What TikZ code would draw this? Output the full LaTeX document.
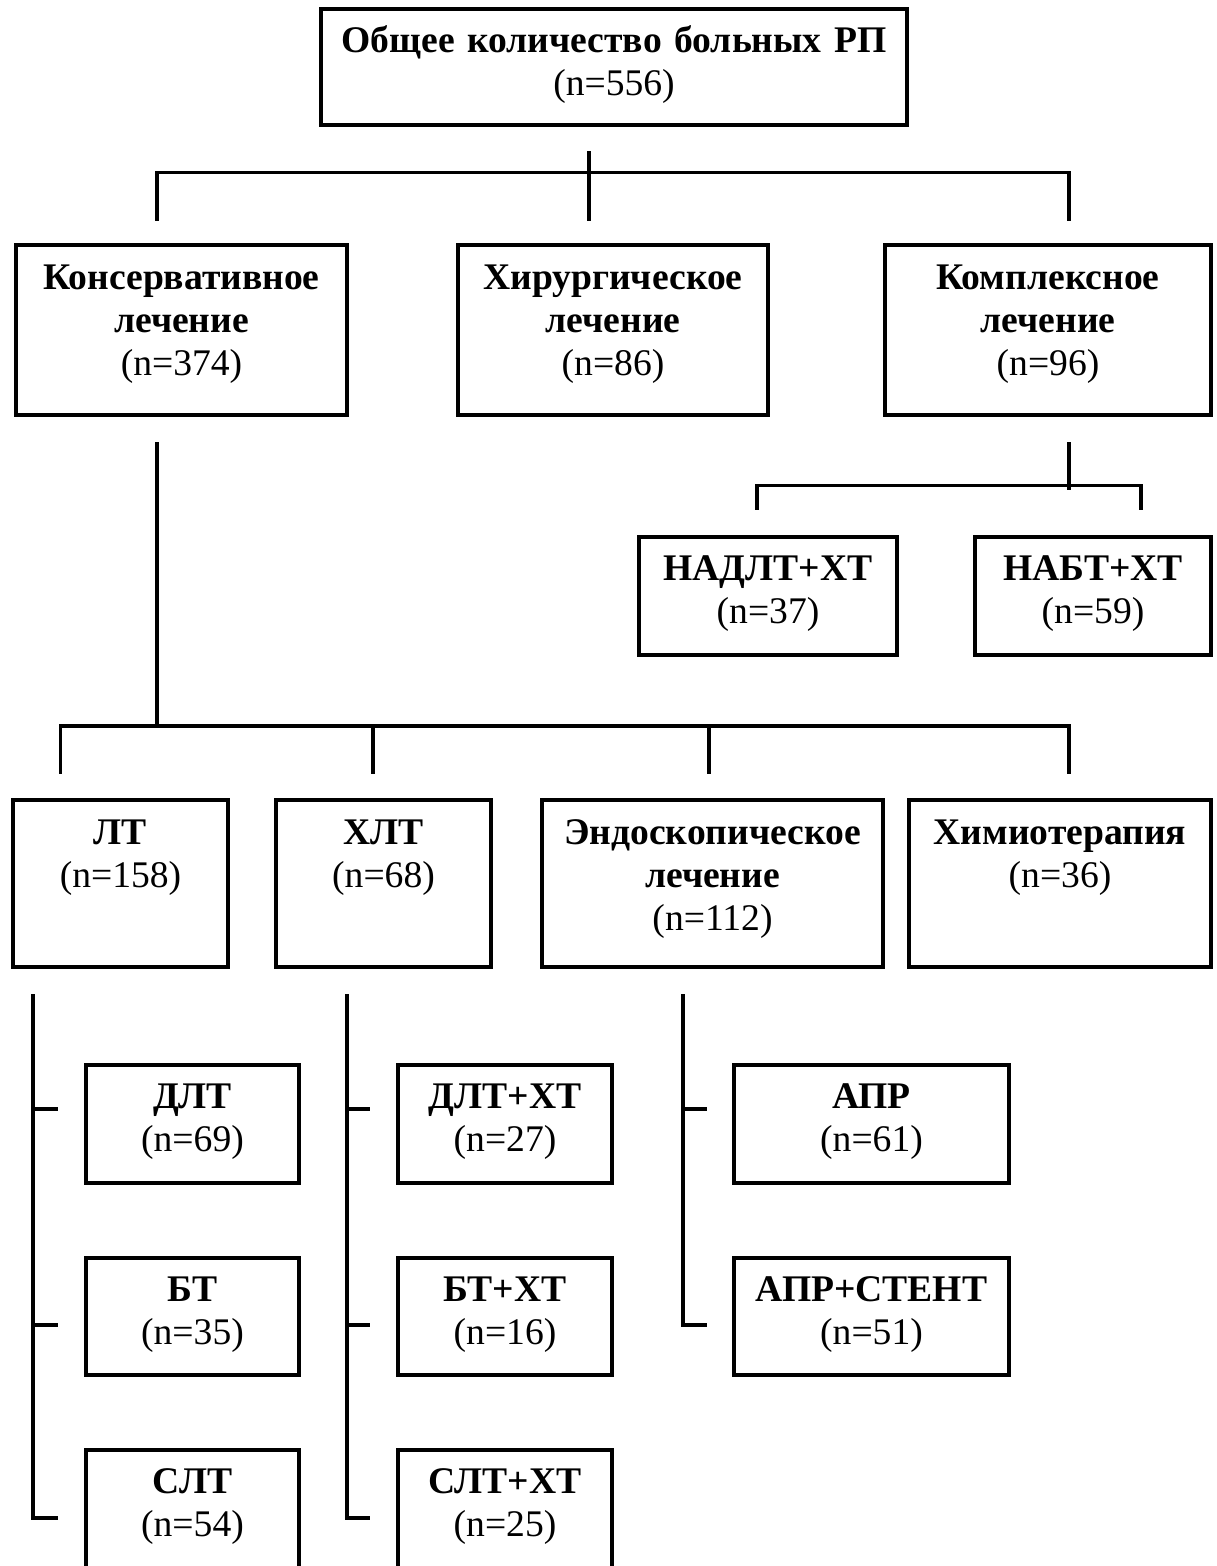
\documentclass[tikz,border=0pt]{standalone}
\usepackage{fontspec}
\setmainfont{Liberation Serif}[WordSpace=0.75]
\usetikzlibrary{calc,fit,positioning}

\begin{document}
\begin{tikzpicture}[x=0.5pt,y=-0.5pt]
\tikzstyle{box}=[draw,rectangle,line width=2.1pt,inner sep=0pt]
\tikzstyle{txt}=[anchor=base,text width=250pt,align=center,inner sep=0pt,font=\fontsize{18.8}{21.5}\selectfont]
\tikzstyle{link}=[line width=1.6pt]

\useasboundingbox (0,0) rectangle (1216,1566);

% boxes
\node (root) [box, fit={(321,9) (907,125)}] {};
\node (kons) [box, fit={(16,245) (347,415)}] {};
\node (hir) [box, fit={(458,245) (768,415)}] {};
\node (kom) [box, fit={(885,245) (1211,415)}] {};
\node (nadlt) [box, fit={(639,537) (897,655)}] {};
\node (nabt) [box, fit={(975,537) (1211,655)}] {};

\node (lt) [box, fit={(13,800) (228,967)}] {};
\node (hlt) [box, fit={(276,800) (491,967)}] {};
\node (endo) [box, fit={(542,800) (883,967)}] {};
\node (him) [box, fit={(909,800) (1211,967)}] {};

\node (dlt) [box, fit={(86,1065) (299,1183)}] {};
\node (bt) [box, fit={(86,1258) (299,1375)}] {};
\node (slt) [box, fit={(86,1450) (299,1572)}] {};
\node (dlthx) [box, fit={(398,1065) (612,1183)}] {};
\node (bthx) [box, fit={(398,1258) (612,1375)}] {};
\node (slthx) [box, fit={(398,1450) (612,1572)}] {};
\node (apr) [box, fit={(734,1065) (1009,1183)}] {};
\node (aprst) [box, fit={(734,1258) (1009,1375)}] {};

% texts
\node (troot) [txt, text width=400pt] at ($(root.north)+(0,46)$) {\textbf{Общее количество больных РП}\\(n=556)};
\node (tkons) [txt] at ($(kons.north)+(0,47)$) {\textbf{Консервативное}\\\textbf{лечение}\\(n=374)};
\node (thir) [txt] at ($(hir.north)+(0,47)$) {\textbf{Хирургическое}\\\textbf{лечение}\\(n=86)};
\node (tkom) [txt] at ($(kom.north)+(0,47)$) {\textbf{Комплексное}\\\textbf{лечение}\\(n=96)};
\node (tnadlt) [txt] at ($(nadlt.north)+(0,46)$) {\textbf{НАДЛТ+ХТ}\\(n=37)};
\node (tnabt) [txt] at ($(nabt.north)+(0,46)$) {\textbf{НАБТ+ХТ}\\(n=59)};

\node (tlt) [txt] at ($(lt.north)+(0,47)$) {\textbf{ЛТ}\\(n=158)};
\node (thlt) [txt] at ($(hlt.north)+(0,47)$) {\textbf{ХЛТ}\\(n=68)};
\node (tendo) [txt] at ($(endo.north)+(0,47)$) {\textbf{Эндоскопическое}\\\textbf{лечение}\\(n=112)};
\node (thim) [txt] at ($(him.north)+(0,47)$) {\textbf{Химиотерапия}\\(n=36)};

\node (tdlt) [txt] at ($(dlt.north)+(0,46)$) {\textbf{ДЛТ}\\(n=69)};
\node (tbt) [txt] at ($(bt.north)+(0,46)$) {\textbf{БТ}\\(n=35)};
\node (tslt) [txt] at ($(slt.north)+(0,46)$) {\textbf{СЛТ}\\(n=54)};
\node (tdlthx) [txt] at ($(dlthx.north)+(0,46)$) {\textbf{ДЛТ+ХТ}\\(n=27)};
\node (tbthx) [txt] at ($(bthx.north)+(0,46)$) {\textbf{БТ+ХТ}\\(n=16)};
\node (tslthx) [txt] at ($(slthx.north)+(0,46)$) {\textbf{СЛТ+ХТ}\\(n=25)};
\node (tapr) [txt] at ($(apr.north)+(0,46)$) {\textbf{АПР}\\(n=61)};
\node (taprst) [txt] at ($(aprst.north)+(0,46)$) {\textbf{АПР+СТЕНТ}\\(n=51)};

% tree lines
\draw [link] ($(root.south)+(-25,24)$) -- ($(hir.north)+(-24,-22)$);
\draw [link] ($(kons.north)+(-24.5,-22)$) |- ($(kom.north)+(21,-70)$) -- ($(kom.north)+(21,-22)$);

\draw [link] ($(kom.south)+(21,25)$) -- ($(kom.south)+(21,73)$);
\draw [link] ($(nadlt.north)+(-11,-25)$) |- ($(nabt.north)+(48,-49)$) -- ($(nabt.north)+(48,-25)$);

\draw [link] ($(kons.south)+(-24.5,25)$) -- ($(lt.north)+(36.5,-72)$);
\draw [link] ($(lt.north)+(-60,-24)$) |- ($(him.north)+(9,-72)$) -- ($(him.north)+(9,-24)$);
\draw [link] ($(hlt.north)+(-10.5,-72)$) -- ($(hlt.north)+(-10.5,-24)$);
\draw [link] ($(endo.north)+(-3.5,-72)$) -- ($(endo.north)+(-3.5,-24)$);

% side lines
\coordinate (sp1) at ($(lt.south west)+(22,25)$);
\coordinate (sp2) at ($(hlt.south west)+(73,25)$);
\coordinate (sp3) at ($(endo.south west)+(143,25)$);
\foreach \n/\d in {dlt/46, bt/69, slt/70}
  \draw [link] ($(\n.north west)+(-26,\d)$) -| (sp1);
\foreach \n/\d in {dlthx/46, bthx/69, slthx/70}
  \draw [link] ($(\n.north west)+(-26,\d)$) -| (sp2);
\foreach \n/\d in {apr/46, aprst/69}
  \draw [link] ($(\n.north west)+(-25,\d)$) -| (sp3);

\end{tikzpicture}
\end{document}
